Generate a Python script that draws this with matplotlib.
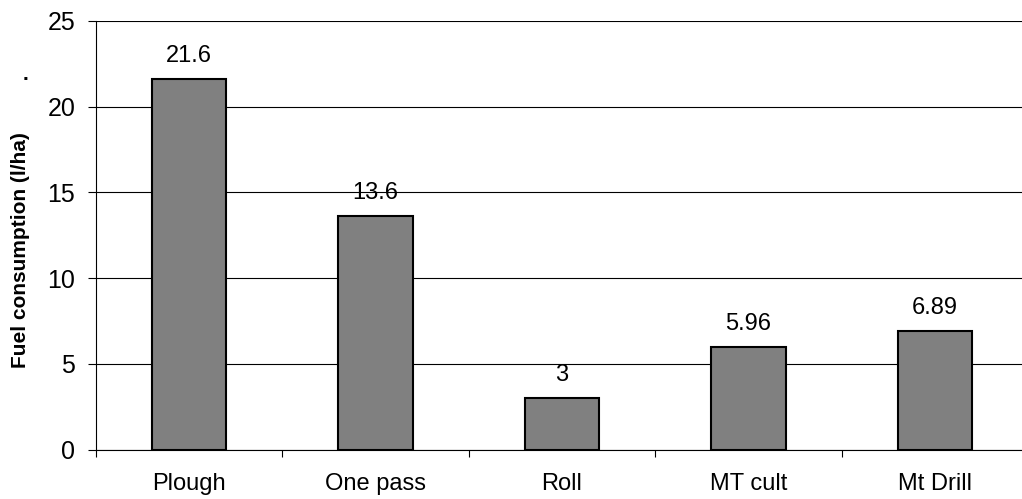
import matplotlib
matplotlib.use("Agg")
import matplotlib.pyplot as plt
import numpy as np

categories = ["Plough", "One pass", "Roll", "MT cult", "Mt Drill"]
fuel = [21.6, 13.6, 3, 5.96, 6.89]
value_labels = ["21.6", "13.6", "3", "5.96", "6.89"]
yticks = [0, 5, 10, 15, 20, 25]

plt.rcParams["font.family"] = ["Liberation Sans", "DejaVu Sans"]

fig = plt.figure(figsize=(10.22, 4.99), dpi=100)
ax = fig.add_axes([96 / 1022, 49.5 / 499, 932 / 1022, 428.5 / 499])

x = np.arange(len(categories))
ax.bar(x, fuel, width=0.4, color="#808080", edgecolor="black", linewidth=1.5, zorder=3)

for xi, v, lab in zip(x, fuel, value_labels):
    ax.annotate(lab, (xi, v), xytext=(0, 9), textcoords="offset points",
                ha="center", va="bottom", fontsize=17)

ax.set_xlim(-0.5, len(categories) - 0.5)
ax.set_ylim(0, 25)
ax.set_yticks(yticks)
ax.set_yticklabels([str(t) for t in yticks], fontsize=18)
ax.yaxis.grid(True, color="black", linewidth=0.8, zorder=0)
ax.set_axisbelow(True)

ax.set_xticks(x)
ax.set_xticklabels(categories, fontsize=17)
ax.set_xticks(np.arange(len(categories)) - 0.5, minor=True)
ax.tick_params(axis="x", which="major", length=0, pad=17)
ax.tick_params(axis="x", which="minor", length=5, width=0.8, direction="out")
ax.tick_params(axis="y", length=6, width=0.8, pad=9)

for side in ["top", "right"]:
    ax.spines[side].set_visible(False)
ax.spines["left"].set_linewidth(0.8)
ax.spines["bottom"].set_linewidth(0.8)

ax.set_ylabel("Fuel consumption (l/ha)", fontsize=15, fontweight="bold")
ax.yaxis.set_label_coords(-0.071, 0.466)
fig.text(25 / 1022, 1 - 75 / 499, ".", fontsize=15, fontweight="bold", ha="center", va="center")

fig.savefig("out.png", dpi=100)
